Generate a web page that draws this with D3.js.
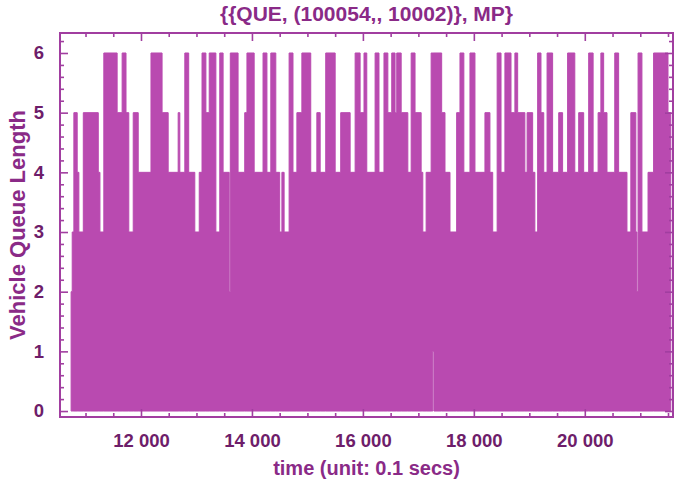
<!DOCTYPE html>
<html>
<head>
<meta charset="utf-8">
<script src="https://cdn.jsdelivr.net/npm/d3@7"></script>
<style>
  html, body { margin: 0; padding: 0; background: #fff; }
  svg { display: block; font-family: "Liberation Sans", Arial, sans-serif; font-weight: bold; }
</style>
</head>
<body>
<div id="chart"></div>
<script>
// Queue length steps (time in 0.1 s, value = top of the trace)
const stepTime = [
  10740, 10760, 10790, 10850, 10880, 10960, 11230, 11260, 11330, 11570,
  11660, 11730, 11780, 11860, 11950, 12180, 12380, 12490, 12670, 12700,
  12790, 12860, 12970, 13050, 13100, 13170, 13230, 13350, 13420, 13480,
  13590, 13610, 13750, 13870, 13910, 14040, 14200, 14270, 14340, 14430,
  14500, 14540, 14580, 14670, 14740, 14810, 14900, 15060, 15170, 15230,
  15330, 15500, 15600, 15770, 15860, 15950, 16020, 16070, 16220, 16290,
  16380, 16450, 16520, 16580, 16610, 16690, 16810, 16870, 16940, 17050,
  17080, 17140, 17230, 17260, 17280, 17420, 17480, 17570, 17690, 17750,
  17820, 17930, 18020, 18200, 18290, 18340, 18420, 18490, 18560, 18670,
  18740, 18790, 18920, 18960, 19060, 19100, 19150, 19210, 19260, 19320,
  19420, 19530, 19600, 19690, 19820, 19890, 19980, 20070, 20150, 20240,
  20290, 20340, 20400, 20540, 20610, 20690, 20760, 20830, 20920, 20940,
  20960, 21030, 21140, 21240, 21500, 21550
];
const queueMax = [
  2, 3, 5, 4, 3, 5, 4, 3, 6, 5,
  6, 5, 3, 5, 4, 6, 5, 4, 5, 4,
  6, 4, 3, 4, 6, 5, 6, 3, 6, 4,
  2, 6, 4, 5, 6, 4, 6, 4, 6, 4,
  3, 4, 3, 6, 4, 5, 6, 4, 5, 4,
  6, 4, 5, 4, 6, 5, 6, 4, 6, 4,
  6, 5, 6, 5, 6, 5, 4, 6, 5, 4,
  3, 4, 6, 6, 6, 5, 4, 3, 5, 6,
  4, 6, 4, 5, 4, 3, 6, 4, 6, 5,
  6, 5, 4, 5, 4, 3, 6, 5, 4, 6,
  4, 5, 4, 6, 4, 5, 4, 6, 4, 5,
  6, 5, 4, 6, 4, 4, 3, 5, 3, 2,
  6, 3, 4, 6, 5, 5
];
// short spells where the trace never came down to 0
const lowSpellFrom = [17260];
const lowSpellTo = [17280];
const lowSpellValue = [1];

const xMajor = [12000, 14000, 16000, 18000, 20000];
const yMajor = [0, 1, 2, 3, 4, 5, 6];

const width = 678;
const height = 486;
const frame = { left: 60, right: 673, top: 33, bottom: 417 };

const purple = '#b94ab0';
const frameColor = '#a13ea0';
const tickText = '#6e1d6a';
const labelText = '#8a2a87';

const svg = d3.select('#chart').append('svg')
    .attr('width', width)
    .attr('height', height);

const x = d3.scaleLinear().domain([10540, 21590]).range([frame.left, frame.right]);
const y = d3.scaleLinear().domain([-0.1, 6.335]).range([frame.bottom, frame.top]);

const data = stepTime.map((t, i) => {
    let low = 0;
    lowSpellFrom.forEach((f, j) => {
        if (t >= f && t < lowSpellTo[j]) low = lowSpellValue[j];
    });
    return { t, hi: queueMax[i], lo: low };
});

// filled trace
const area = d3.area()
    .curve(d3.curveStepAfter)
    .x(d => x(d.t))
    .y0(d => y(d.lo))
    .y1(d => y(d.hi));

svg.append('path')
    .datum(data)
    .attr('d', area)
    .attr('fill', purple)
    .attr('stroke', purple)
    .attr('stroke-width', 1);

// minor tick values
const xMinor = d3.range(11000, 21600, 500).filter(v => !xMajor.includes(v));
const yMinor = d3.range(0, 6.3, 0.2).map(v => +v.toFixed(1)).filter(v => !yMajor.includes(v));

const fmt = d => d3.format(',')(d).replace(',', ' ');

function styleAxis(g) {
    g.select('.domain').remove();
    g.selectAll('line').attr('stroke', frameColor).attr('stroke-width', 1.6);
    g.selectAll('text')
        .attr('fill', tickText)
        .style('font-size', '18.5px')
        .style('font-weight', 'bold');
}

// bottom
svg.append('g').attr('transform', `translate(0,${frame.bottom})`)
    .call(d3.axisBottom(x).tickValues(xMajor).tickSize(-8).tickPadding(17).tickFormat(fmt))
    .call(styleAxis);
svg.append('g').attr('transform', `translate(0,${frame.bottom})`)
    .call(d3.axisBottom(x).tickValues(xMinor).tickSize(-4).tickFormat(''))
    .call(styleAxis);
// top
svg.append('g').attr('transform', `translate(0,${frame.top})`)
    .call(d3.axisTop(x).tickValues(xMajor).tickSize(-8).tickFormat(''))
    .call(styleAxis);
svg.append('g').attr('transform', `translate(0,${frame.top})`)
    .call(d3.axisTop(x).tickValues(xMinor).tickSize(-4).tickFormat(''))
    .call(styleAxis);
// left
svg.append('g').attr('transform', `translate(${frame.left},0)`)
    .call(d3.axisLeft(y).tickValues(yMajor).tickSize(-8).tickPadding(16).tickFormat(d3.format('d')))
    .call(styleAxis);
svg.append('g').attr('transform', `translate(${frame.left},0)`)
    .call(d3.axisLeft(y).tickValues(yMinor).tickSize(-4).tickFormat(''))
    .call(styleAxis);
// right
svg.append('g').attr('transform', `translate(${frame.right},0)`)
    .call(d3.axisRight(y).tickValues(yMajor).tickSize(-8).tickFormat(''))
    .call(styleAxis);
svg.append('g').attr('transform', `translate(${frame.right},0)`)
    .call(d3.axisRight(y).tickValues(yMinor).tickSize(-4).tickFormat(''))
    .call(styleAxis);

// frame
svg.append('rect')
    .attr('x', frame.left)
    .attr('y', frame.top)
    .attr('width', frame.right - frame.left)
    .attr('height', frame.bottom - frame.top)
    .attr('fill', 'none')
    .attr('stroke', frameColor)
    .attr('stroke-width', 2);

// title
svg.append('text')
    .attr('x', (frame.left + frame.right) / 2)
    .attr('y', 21)
    .attr('text-anchor', 'middle')
    .attr('fill', labelText)
    .style('font-size', '21px')
    .text('{{QUE, (100054,, 10002)}, MP}');

// axis labels
svg.append('text')
    .attr('x', (frame.left + frame.right) / 2)
    .attr('y', 475)
    .attr('text-anchor', 'middle')
    .attr('fill', labelText)
    .style('font-size', '20px')
    .text('time (unit: 0.1 secs)');

svg.append('text')
    .attr('transform', `translate(25,${(frame.top + frame.bottom) / 2}) rotate(-90)`)
    .attr('text-anchor', 'middle')
    .attr('fill', labelText)
    .style('font-size', '22px')
    .text('Vehicle Queue Length');
</script>
</body>
</html>
